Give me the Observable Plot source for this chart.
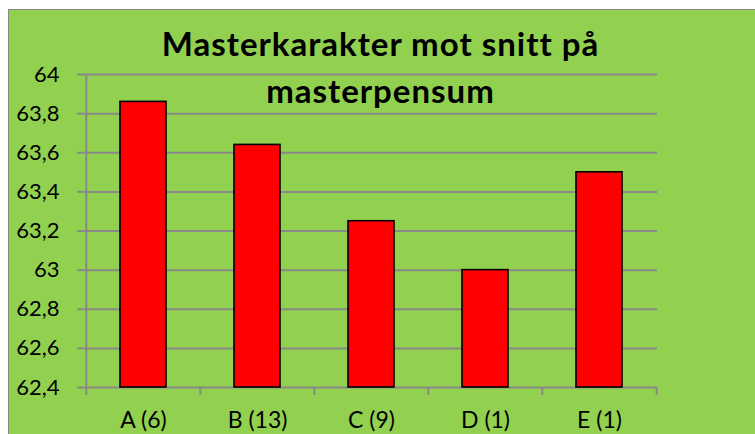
<!DOCTYPE html>
<html>
<head>
<meta charset="utf-8">
<script src="https://cdn.jsdelivr.net/npm/d3@7"></script>
<script src="https://cdn.jsdelivr.net/npm/@observablehq/plot@0.6"></script>
<style>
  html, body { margin: 0; padding: 0; background: #ffffff; }
  #chart {
    position: absolute; left: 8px; top: 9px;
    width: 746px; height: 424px;
    background: #92D050;
    border-left: 1px solid #8a8a8a;
    border-top: 1px solid #8a8a8a;
    overflow: hidden;
  }
  #chart svg { display: block; }
</style>
</head>
<body>
<div id="chart"></div>
<script>
const categories = ["A (6)", "B (13)", "C (9)", "D (1)", "E (1)"];
const values = [63.86, 63.64, 63.25, 63.0, 63.5];
const yTicks = [62.4, 62.6, 62.8, 63.0, 63.2, 63.4, 63.6, 63.8, 64.0];
const titleLines = ["Masterkarakter mot snitt på", "masterpensum"];

const data = categories.map((c, i) => ({cat: c, value: values[i]}));
const W = 746, H = 424;
const mL = 76, mR = 98, mT = 64, mB = 47;
const step = (W - mL - mR) / categories.length;
const gray = "#898989";
const fmt = d => String(+d.toFixed(1)).replace(".", ",");

const chart = Plot.plot({
  width: W, height: H,
  marginLeft: mL, marginRight: mR, marginTop: mT, marginBottom: mB,
  style: {background: "transparent", color: "black", fontFamily: "Lato, sans-serif", overflow: "visible"},
  x: {domain: categories, paddingInner: 0.6, paddingOuter: 0.3, axis: null},
  y: {domain: [yTicks[0], yTicks[yTicks.length - 1]], axis: null},
  marks: [
    Plot.gridY(yTicks, {stroke: gray, strokeOpacity: 1, strokeWidth: 2}),
    Plot.ruleX([categories[0]], {x: d => d, dx: -step / 2, stroke: gray, strokeWidth: 2}),
    Plot.axisY({ticks: yTicks, tickSize: 8, tickPadding: 18, tickFormat: fmt, fontSize: 22, stroke: gray, strokeWidth: 2, strokeOpacity: 1, label: null}),
    Plot.axisX({ticks: categories, tickSize: 8, dx: -step / 2, tickFormat: () => "", stroke: gray, strokeWidth: 2, strokeOpacity: 1, label: null}),
    Plot.axisX({ticks: [categories[categories.length - 1]], tickSize: 8, dx: step / 2, tickFormat: () => "", stroke: gray, strokeWidth: 2, strokeOpacity: 1, label: null}),
    Plot.axisX({ticks: categories, tickSize: 0, tickPadding: 24, fontSize: 23, label: null}),
    Plot.barY(data, {x: "cat", y1: yTicks[0], y2: "value", fill: "#FF0000", stroke: "black", strokeWidth: 1.6}),
    Plot.text([titleLines.join("\n")], {text: d => d, frameAnchor: "top", lineAnchor: "top", lineHeight: 1.4, dx: 9, dy: -51, fontSize: 33, fontWeight: "bold", fill: "black"})
  ]
});
d3.select(chart).selectAll("text").filter(function() { return this.getAttribute("font-size") === "33"; }).style("letter-spacing", "1px");
d3.select(chart).selectAll("g[font-size='33']").style("letter-spacing", "1px");
document.getElementById("chart").appendChild(chart);
</script>
</body>
</html>
